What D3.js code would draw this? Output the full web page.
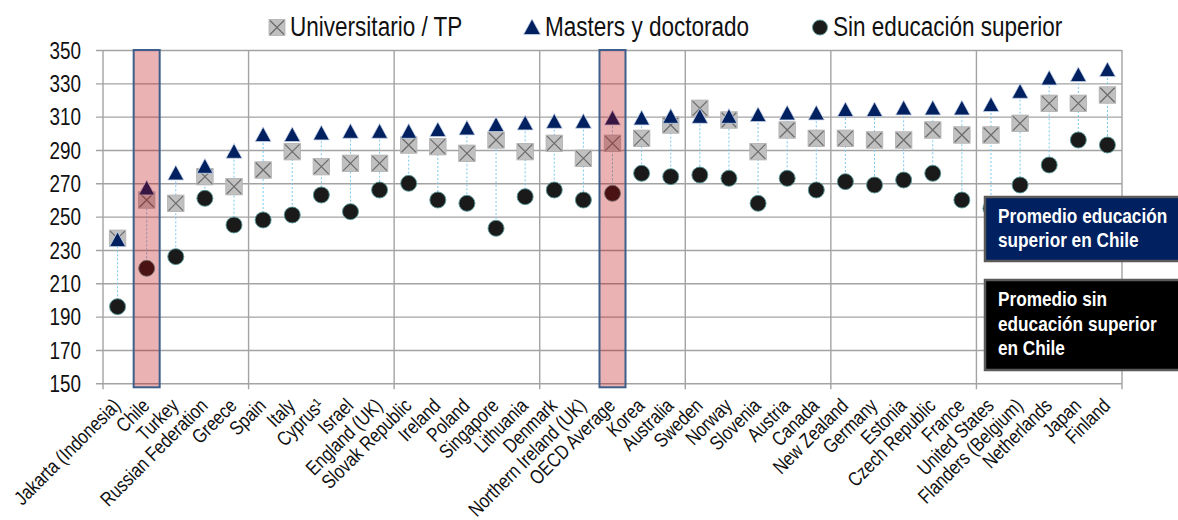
<!DOCTYPE html>
<html>
<head>
<meta charset="utf-8">
<script src="https://cdn.jsdelivr.net/npm/d3@7"></script>
<style>
  html, body { margin: 0; padding: 0; background: #fff; }
  svg { display: block; }
  text { font-family: "Liberation Sans Narrow", "Arial Narrow", "Liberation Sans", Arial, sans-serif; }
</style>
</head>
<body>
<svg id="chart" width="1178" height="520"></svg>
<script>
// Countries in display order
const categories = [
  "Jakarta (Indonesia)", "Chile", "Turkey", "Russian Federation", "Greece",
  "Spain", "Italy", "Cyprus¹", "Israel", "England (UK)",
  "Slovak Republic", "Ireland", "Poland", "Singapore", "Lithuania",
  "Denmark", "Northern Ireland (UK)", "OECD Average", "Korea", "Australia",
  "Sweden", "Norway", "Slovenia", "Austria", "Canada",
  "New Zealand", "Germany", "Estonia", "Czech Republic", "France",
  "United States", "Flanders (Belgium)", "Netherlands", "Japan", "Finland"
];

// Mean scores by education level
const universitario = [
  237, 260, 258, 274, 268, 278, 289, 280, 282, 282,
  293, 292, 288, 296, 289, 294, 285, 294, 297, 305,
  315, 308, 289, 302, 297, 297, 296, 296, 302, 299,
  299, 306, 318, 318, 323
];
const masters = [
  236, 267, 276, 280, 289, 299, 299, 300, 301, 301,
  301, 302, 303, 305, 306, 307, 307, 309, 309, 310,
  310, 310, 311, 312, 312, 314, 314, 315, 315, 315,
  317, 325, 333, 335, 338
];
const sinSuperior = [
  196, 219, 226, 261, 245, 248, 251, 263, 253, 266,
  270, 260, 258, 243, 262, 266, 260, 264, 276, 274,
  275, 273, 258, 273, 266, 271, 269, 272, 276, 260,
  255, 269, 281, 296, 293
];

const yTicks = [150, 170, 190, 210, 230, 250, 270, 290, 310, 330, 350];
const highlighted = ["Chile", "OECD Average"];

const legendItems = ["Universitario / TP", "Masters y doctorado", "Sin educación superior"];
const noteUpper = ["Promedio educación", "superior en Chile"];
const noteLower = ["Promedio sin", "educación superior", "en Chile"];

const svg = d3.select("#chart");
const plotLeft = 103, plotRight = 1122, plotTop = 50, plotBottom = 383.3;

const x = d3.scaleBand().domain(categories).range([plotLeft, plotRight]);
const y = d3.scaleLinear().domain([150, 350]).range([plotBottom, plotTop]);
const cx = c => x(c) + x.bandwidth() / 2;

const gridColor = "#a3a3a3";
const NARROW = 0.82;

// Place a text at (px, py) and condense it horizontally, like a narrow face
function placeNarrow(sel, px, py, rot) {
  sel.attr("x", 0).attr("y", 0)
    .attr("transform", (d, i) => {
      const tx = typeof px === "function" ? px(d, i) : px;
      const ty = typeof py === "function" ? py(d, i) : py;
      return `translate(${tx},${ty})` + (rot ? ` rotate(${rot})` : "") + ` scale(${NARROW},1)`;
    });
}

// Horizontal gridlines and value labels
const yAxis = svg.append("g")
  .attr("transform", `translate(${plotLeft},0)`)
  .call(d3.axisLeft(y).tickValues(yTicks).tickSizeInner(-(plotRight - plotLeft)).tickSizeOuter(0));
yAxis.select(".domain").remove();
yAxis.selectAll(".tick line")
  .attr("x1", -7).attr("stroke", gridColor).attr("stroke-width", 1.4);
yAxis.selectAll(".tick text")
  .attr("dy", "0.36em")
  .attr("font-size", 23).attr("fill", "#111")
  .call(placeNarrow, -22, 0);

// Vertical gridlines every five categories
const vIdx = d3.range(0, categories.length + 1, 5);
svg.append("g").selectAll("line")
  .data(vIdx)
  .join("line")
  .attr("x1", i => i < categories.length ? x(categories[i]) : x.range()[1])
  .attr("x2", i => i < categories.length ? x(categories[i]) : x.range()[1])
  .attr("y1", plotTop).attr("y2", plotBottom + 6)
  .attr("stroke", gridColor).attr("stroke-width", 1.4);

// Category labels, rotated
svg.append("g").selectAll("text")
  .data(categories)
  .join("text")
  .attr("text-anchor", "end")
  .attr("font-size", 20)
  .attr("fill", "#111")
  .text(c => c)
  .call(placeNarrow, c => cx(c) + 4, 407, -45);

// High-low connectors
const rows = categories.map((c, i) => ({
  c, u: universitario[i], m: masters[i], s: sinSuperior[i]
}));
svg.append("g").selectAll("line")
  .data(rows)
  .join("line")
  .attr("x1", d => cx(d.c)).attr("x2", d => cx(d.c))
  .attr("y1", d => y(Math.max(d.u, d.m, d.s)))
  .attr("y2", d => y(Math.min(d.u, d.m, d.s)))
  .attr("stroke", "#7cc8f0").attr("stroke-width", 1)
  .attr("stroke-dasharray", "2,2");

// Marker drawers
function squareX(g, px, py, s) {
  g.append("rect").attr("x", px - s / 2).attr("y", py - s / 2)
    .attr("width", s).attr("height", s)
    .attr("fill", "#c0c0c0").attr("stroke", "#b0b0b0").attr("stroke-width", 0.8);
  const h = s / 2 - 1;
  g.append("path")
    .attr("d", `M${px - h},${py - h}L${px + h},${py + h}M${px + h},${py - h}L${px - h},${py + h}`)
    .attr("stroke", "#6a6a6a").attr("stroke-width", 1.2).attr("fill", "none");
}
function triangle(g, px, py, w) {
  const h = w * 0.92;
  g.append("path")
    .attr("d", `M${px},${py - h * 0.55}L${px + w / 2},${py + h * 0.45}L${px - w / 2},${py + h * 0.45}Z`)
    .attr("fill", "#002060").attr("stroke", "#c8d4ea").attr("stroke-width", 0.8);
}
function dot(g, px, py, r) {
  g.append("circle").attr("cx", px).attr("cy", py).attr("r", r)
    .attr("fill", "#1a1a1a").attr("stroke", "#5a9a9a").attr("stroke-width", 0.9);
}

const marks = svg.append("g");
rows.forEach(d => {
  squareX(marks, cx(d.c), y(d.u), 16.5);
});
rows.forEach(d => {
  triangle(marks, cx(d.c), y(d.m), 16);
});
rows.forEach(d => {
  dot(marks, cx(d.c), y(d.s), 8);
});

// Highlight bands over Chile and the OECD average
svg.append("g").selectAll("rect")
  .data(highlighted)
  .join("rect")
  .attr("x", c => cx(c) - 13)
  .attr("y", plotTop)
  .attr("width", 26)
  .attr("height", plotBottom + 4 - plotTop)
  .attr("fill", "rgb(185,0,0)").attr("fill-opacity", 0.3)
  .attr("stroke", "#3e5f8c").attr("stroke-width", 2);

// Legend
const legend = svg.append("g");
const legendPos = [277, 532, 820];
squareX(legend, legendPos[0], 27.5, 16);
triangle(legend, legendPos[1], 27.5, 17);
dot(legend, legendPos[2], 27.5, 7.5);
legend.selectAll("text")
  .data(legendItems)
  .join("text")
  .attr("font-size", 27.5)
  .attr("fill", "#111")
  .text(d => d)
  .call(placeNarrow, (d, i) => legendPos[i] + 13, 35.5);

// Annotation boxes
function noteBox(bx, by, bw, bh, fill, lines, baseline0) {
  const g = svg.append("g");
  g.append("rect").attr("x", bx).attr("y", by).attr("width", bw).attr("height", bh)
    .attr("fill", fill).attr("stroke", "#5a5a5a").attr("stroke-width", 2.5);
  g.selectAll("text").data(lines).join("text")
    .attr("font-size", 21).attr("font-weight", "bold")
    .attr("fill", "#fff")
    .text(d => d)
    .call(placeNarrow, bx + 13, (d, i) => baseline0 + i * 24.5);
}
noteBox(985, 197, 200, 64, "#002060", noteUpper, 222.5);
noteBox(985, 280, 200, 90, "#000000", noteLower, 306);
</script>
</body>
</html>
